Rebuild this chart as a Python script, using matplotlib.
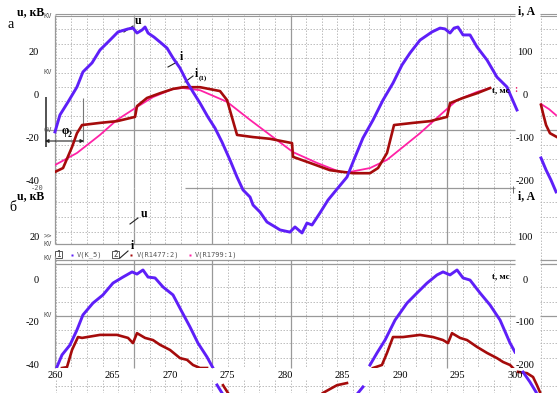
import matplotlib
matplotlib.use("Agg")
import matplotlib.pyplot as plt
from matplotlib.patches import Rectangle

W, H = 557, 393

# ---------------- data: panel "а" ----------------
t_u_a = [260.0, 260.43, 261.13, 261.91, 262.43, 263.22, 263.91, 264.78, 265.48, 266.35,
         266.78, 267.13, 267.57, 267.83, 268.09, 268.61, 269.13, 269.74, 270.26, 270.87,
         271.48, 272.0, 272.61, 273.30, 273.91, 274.52, 275.22, 275.83, 276.35, 276.96,
         277.22, 277.83, 278.43, 279.30, 279.57, 280.43, 280.87, 281.48, 281.91, 282.35,
         283.04, 283.74, 284.52, 285.39, 286.09, 286.78, 287.65, 288.52, 289.39, 290.17,
         290.87, 291.74, 292.78, 293.48, 293.91, 294.35, 294.70, 295.04, 295.48, 296.09,
         296.70, 297.57, 298.43, 299.30, 300.17]
u_a = [-17.4, -9.5, -3.5, 3.5, 10.5, 14.7, 20.7, 25.3, 29.1, 30.5,
       30.9, 28.6, 30.0, 31.4, 28.6, 26.7, 24.4, 21.6, 17.0, 12.3,
       5.8, 1.2, -4.0, -10.5, -15.6, -22.1, -30.5, -38.4, -44.4, -47.7,
       -51.4, -54.7, -59.3, -62.1, -63.0, -64.0, -61.6, -64.4, -59.8, -60.7,
       -55.1, -49.1, -44.0, -38.4, -29.1, -20.2, -11.9, -2.6, 5.3, 13.7,
       19.3, 25.3, 29.1, 30.9, 30.5, 28.6, 30.9, 31.4, 27.7, 27.7,
       22.1, 16.0, 8.1, 3.5, -7.2]

t_i_a = [260.0, 260.70, 261.48, 261.91, 262.35, 263.91, 265.39, 266.96, 267.13, 268.0,
         269.13, 270.26, 271.13, 272.61, 274.35, 274.96, 275.83, 277.22, 278.70, 280.61,
         280.70, 282.17, 283.91, 285.91, 287.39, 288.09, 288.87, 289.48, 291.13, 292.61,
         294.09, 294.35, 295.48, 296.70, 297.83]
i_a = [-180, -171, -122, -90, -71, -66, -62, -52, -27, -8,
       3, 13, 17, 17, 8, -13, -94, -99, -103, -113,
       -145, -159, -176, -183, -183, -171, -136, -71, -66, -62,
       -52, -20, -8, 3, 15]

t_i1_a = [260.0, 261.91, 263.91, 265.39, 267.13, 268.52, 270.26, 271.13, 272.61, 274.96,
          276.96, 278.70, 280.70, 282.78, 284.78, 285.65, 287.39, 288.87, 290.26, 291.74,
          293.48, 294.96, 296.70, 297.83]
i1_a = [-164, -136, -94, -59, -29, -6, 13, 15, 10, -17,
        -59, -94, -134, -159, -180, -180, -171, -152, -122, -90,
        -48, -13, 6, 15]

# fragments of the next trace copy, right of the plot
t_u_a_frag = [302.26, 302.70, 303.13, 303.57]
u_a_frag = [-29.5, -35.1, -39.8, -45.3]
t_i_a_frag = [302.26, 302.43, 302.70, 303.04, 303.65]
i_a_frag = [-24, -43, -71, -90, -99]
t_i1_a_frag = [302.26, 302.96, 303.57]
i1_a_frag = [-22, -34, -48]

# ---------------- data: panel "б" ----------------
t_u_b1 = [260.17, 260.61, 261.30, 261.91, 262.43, 263.30, 264.17, 265.04, 265.91, 266.70,
          267.13, 267.65, 268.09, 268.70, 269.39, 270.26, 271.04, 271.74, 272.43, 273.22, 273.74]
u_b1 = [-40.9, -35.3, -30.7, -23.7, -16.7, -11.2, -7.4, -1.9, 0.9, 3.3,
        2.3, 4.2, 0.9, 0.5, -3.7, -7.4, -15.3, -22.3, -29.8, -36.3, -41.4]
t_u_b2 = [287.39, 288.0, 288.70, 289.57, 290.61, 291.48, 292.35, 293.22, 293.74, 294.35,
          294.96, 295.48, 296.09, 296.96, 297.83, 298.70, 299.57, 300.0]
u_b2 = [-40.0, -34.4, -28.4, -19.1, -11.2, -6.5, -1.9, 1.9, 3.3, 1.9,
        4.2, 0.5, -0.5, -6.5, -12.1, -19.1, -29.8, -34.0]

t_i_b1 = [260.61, 261.04, 261.48, 262.0, 262.35, 263.91, 265.39, 266.35, 266.78, 267.13,
          267.83, 268.52, 269.13, 270.0, 270.87, 271.48, 272.0, 272.61, 273.22]
i_b1 = [-207, -205, -165, -135, -137, -130, -130, -137, -149, -126,
        -137, -142, -153, -165, -184, -188, -200, -207, -207]
t_i_b2 = [287.65, 288.43, 288.87, 289.39, 290.26, 291.74, 292.87, 293.74, 294.17, 294.52,
          295.22, 295.83, 296.70, 297.57, 298.43, 298.96, 299.57, 300.0]
i_b2 = [-207, -200, -172, -135, -135, -130, -135, -142, -149, -126,
        -137, -142, -158, -172, -184, -193, -200, -212]

# fragments below the plot
u_b_frags = [([274.09, 274.52], [-49.3, -53.0]),
             ([286.35, 286.78], [-53.0, -50.2]),
             ([300.70, 301.30, 301.83], [-43.3, -47.9, -52.6])]
i_b_frags = [([274.61, 275.04], [-247, -265]),
             ([283.30, 284.52, 285.39], [-265, -247, -242]),
             ([300.26, 301.04, 301.57, 301.91, 302.17], [-216, -219, -228, -247, -263])]

x_ticks = [260, 265, 270, 275, 280, 285, 290, 295, 300]
u_ticks_a = [20, 0, -20, -40]
i_ticks_a = [100, 0, -100, -200]
u_ticks_b = [0, -20, -40]
i_ticks_b = [0, -100, -200]

# ---------------- style ----------------
C_U = "#5e1ff8"
C_I = "#a50b0b"
C_I1 = "#ff22a6"
C_GRID = "#b4b4b4"
C_MAJ = "#999999"
SERIF = "Liberation Serif"
MONO = "DejaVu Sans Mono"

fig = plt.figure(figsize=(W / 100, H / 100), dpi=100)


def rect(x0, y0, x1, y1):
    return [x0 / W, 1 - y1 / H, (x1 - x0) / W, (y1 - y0) / H]


# background decoration layer (pixel coordinates)
deco = fig.add_axes([0, 0, 1, 1], zorder=0)
deco.set_xlim(0, W)
deco.set_ylim(H, 0)
deco.axis("off")


def hl(y, x0, x1, dotted=True, lw=None, color=None):
    deco.plot([x0, x1], [y, y], color=color or (C_GRID if dotted else C_MAJ),
              lw=lw or (0.6 if dotted else 0.9),
              ls=(0, (1.8, 1.8)) if dotted else "-", solid_capstyle="butt")


def vl(x, y0, y1, dotted=True, lw=None, color=None):
    deco.plot([x, x], [y0, y1], color=color or (C_GRID if dotted else C_MAJ),
              lw=lw or (0.6 if dotted else 0.9),
              ls=(0, (1.8, 1.8)) if dotted else "-", solid_capstyle="butt")


gx = [55.75 + 15.65 * k for k in range(30)]
for k, x in enumerate(gx):
    vl(x, 15, 188, dotted=k not in (5, 15, 25))
    vl(x, 188, 244, dotted=k not in (5, 10, 15, 25))
    vl(x, 260, 368, dotted=k not in (5, 10, 15, 25))
    vl(x, 380, 393, dotted=True)
vl(541, 15, 393)

# horizontal grid, panel а
for y in [29.4, 43.8, 58.2, 72.6, 87.0, 101.4, 115.8, 144.6, 159.0, 173.4]:
    hl(y, 55, 512)
    hl(y, 540, 557)
for y0, y1 in [(55, 515), (540, 557)]:
    hl(14.2, y0, y1, dotted=False, lw=0.8)
    hl(16.0, y0, y1, dotted=False, lw=0.8)
hl(130.2, 45, 515, dotted=False)
hl(130.2, 540, 557, dotted=False)
# panel б upper strip
hl(188, 185, 515, dotted=False)
for y in [202, 217, 232]:
    hl(y, 55, 512)
    hl(y, 540, 557)
hl(244, 55, 515, dotted=False)
hl(260, 55, 515, dotted=False)
hl(264, 55, 515, dotted=False)
hl(260, 540, 557, dotted=False)
hl(264, 540, 557, dotted=False)
for y in [287, 302, 330, 343, 358]:
    hl(y, 55, 512)
    hl(y, 540, 557)
hl(316, 55, 515, dotted=False)
hl(316, 540, 557, dotted=False)
hl(386, 55, 512)
hl(386, 540, 557)
# left borders
vl(55, 15, 244, dotted=False)
vl(55, 256, 368, dotted=False)

# phase shift marks
vl(46, 97, 147, dotted=False, color="#444444", lw=1.3)
vl(83, 98, 142, dotted=False, color="#777777", lw=0.8)
deco.annotate("", xy=(45, 141), xytext=(84, 141),
              arrowprops=dict(arrowstyle="<|-|>", color="#222222", lw=0.8,
                              mutation_scale=5, shrinkA=0, shrinkB=0))
# leader lines
for (x0, y0, x1, y1) in [(124, 32, 133, 26), (168, 67, 177, 62), (185, 82, 193, 76),
                         (130, 224, 138, 218), (120, 258, 128, 251)]:
    deco.plot([x0, x1], [y0, y1], color="#222222", lw=0.8)
# legend boxes
for bx, lab in [(55, "1"), (112, "2")]:
    deco.add_patch(Rectangle((bx, 251), 7, 7, fill=False, ec="#555555", lw=0.7))
    deco.text(bx + 3.5, 254.5, lab, fontsize=5.5, family=MONO, color="#444444",
              ha="center", va="center")
for mx, mc in [(72, C_U), (131, C_I), (190, C_I1)]:
    deco.plot([mx], [255], marker="s", ms=1.5, color=mc, mec="none")
vl(513, 186, 193, dotted=False, color="#555555", lw=0.6)

# ---------------- panel а axes ----------------
ax_a = fig.add_axes(rect(55, 15, 515, 188))
ax_ai = ax_a.twinx()
ax_a.set_zorder(3)
ax_ai.set_zorder(2)
ax_a.patch.set_visible(False)
ax_ai.patch.set_visible(False)
ax_a.set_xlim(260, 300)
ax_a.set_ylim(-43.49, 36.98)
ax_ai.set_ylim(-217.4, 184.9)

ax_ai.plot(t_i1_a, i1_a, color=C_I1, lw=1.3, solid_joinstyle="round")
ax_ai.plot(t_i_a, i_a, color=C_I, lw=1.9, solid_joinstyle="round")
ax_ai.plot(t_i1_a_frag, i1_a_frag, color=C_I1, lw=1.3, clip_on=False)
ax_ai.plot(t_i_a_frag, i_a_frag, color=C_I, lw=1.9, clip_on=False)
ax_a.plot(t_u_a, u_a, color=C_U, lw=2.1, clip_on=False, solid_joinstyle="round")
ax_a.plot(t_u_a_frag, u_a_frag, color=C_U, lw=2.1, clip_on=False)

# ---------------- panel б axes ----------------
ax_b = fig.add_axes(rect(55, 264, 515, 368))
ax_bi = ax_b.twinx()
ax_b.set_zorder(3)
ax_bi.set_zorder(2)
ax_b.patch.set_visible(False)
ax_bi.patch.set_visible(False)
ax_b.set_xlim(260, 300)
ax_b.set_ylim(-41.4, 6.98)
ax_bi.set_ylim(-207.0, 34.9)

ax_bi.plot(t_i_b1, i_b1, color=C_I, lw=1.9, solid_joinstyle="round")
ax_bi.plot(t_i_b2, i_b2, color=C_I, lw=1.9, solid_joinstyle="round")
for tt, vv in i_b_frags:
    ax_bi.plot(tt, vv, color=C_I, lw=1.9, clip_on=False)
ax_b.plot(t_u_b1, u_b1, color=C_U, lw=2.1, solid_joinstyle="round")
ax_b.plot(t_u_b2, u_b2, color=C_U, lw=2.1, solid_joinstyle="round")
for tt, vv in u_b_frags:
    ax_b.plot(tt, vv, color=C_U, lw=2.1, clip_on=False)

# ticks
for ax in (ax_a, ax_ai, ax_b, ax_bi):
    for s in ax.spines.values():
        s.set_visible(False)
    ax.tick_params(length=0, labelsize=7.5)

ax_a.set_xticks([])
ax_b.set_xticks(x_ticks)
ax_b.set_xticklabels([str(v) for v in x_ticks], family=SERIF, fontsize=7.5)
ax_b.tick_params(axis="x", pad=2)

ax_a.set_yticks(u_ticks_a)
ax_a.set_yticklabels([str(v) for v in u_ticks_a], family=SERIF)
ax_a.tick_params(axis="y", pad=11.5)
ax_b.set_yticks(u_ticks_b)
ax_b.set_yticklabels([str(v) for v in u_ticks_b], family=SERIF)
ax_b.tick_params(axis="y", pad=11.5)

ax_ai.set_yticks(i_ticks_a)
ax_ai.set_yticklabels([str(v) for v in i_ticks_a], family=SERIF, ha="center")
ax_ai.tick_params(axis="y", pad=7.2)
ax_bi.set_yticks(i_ticks_b)
ax_bi.set_yticklabels([str(v) for v in i_ticks_b], family=SERIF, ha="center")
ax_bi.tick_params(axis="y", pad=7.2)


# ---------------- texts ----------------
def T(x, y, s, size=8, bold=False, family=SERIF, color="black", ha="left", va="center"):
    fig.text(x / W, 1 - y / H, s, fontsize=size, family=family, color=color,
             fontweight="bold" if bold else "normal", ha=ha, va=va, zorder=5)


def small(x, y, s):
    T(x, y, s, size=5, family=MONO, color="#555555")


T(17, 12, "u, кВ", size=8.5, bold=True)
T(8, 24, "а", size=10)
small(43, 16, "KV")
small(43, 72, "KV")
small(43, 130, "6V")
small(31, 188, "-20")
T(527, 11, "i, A", size=8.5, bold=True, ha="center")
T(492, 90, "t, мс", size=6.5, bold=True)
T(514, 89, ":", size=7, bold=True, color="#e8206a")
T(135, 21, "u", size=8.5, bold=True)
T(180, 57, "i", size=8.5, bold=True)
T(195, 74, "i", size=8.5, bold=True)
T(199, 78, "(1)", size=5, bold=True)
T(62, 131, "φ", size=8.5, bold=True)
T(68, 135, "2", size=5.5, bold=True)

T(17, 196, "u, кВ", size=8.5, bold=True)
T(9, 208, "б", size=10)
T(141, 214, "u", size=8.5, bold=True)
T(40, 238, "20", size=7.5, ha="right")
small(44, 236, ">>")
small(43, 244, "KV")
small(43, 258, "KV")
small(43, 315, "KV")
T(131, 246, "i", size=8.5, bold=True)
small(77, 255, "V(K_5)")
small(137, 255, "V(R1477:2)")
small(195, 255, "V(R1799:1)")
T(527, 196, "i, A", size=8.5, bold=True, ha="center")
T(525, 237, "100", size=7.5, ha="center")
T(492, 276, "t, мс", size=6.5, bold=True)

fig.savefig("out.png", dpi=100)
